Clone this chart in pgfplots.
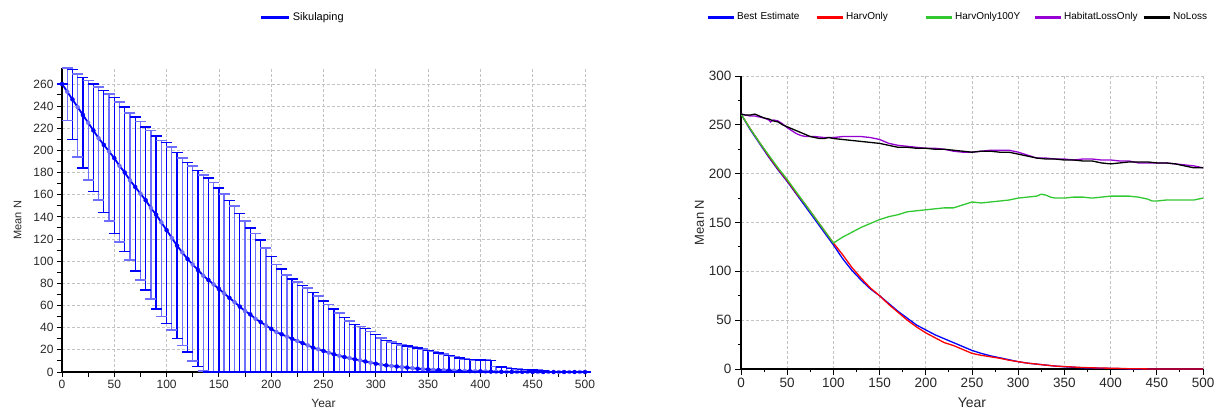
\documentclass[border=0pt]{standalone}
\usepackage{fontspec}
\setmainfont{Liberation Sans}
\usepackage{pgfplots}
\pgfplotsset{compat=1.18}
\usepackage{pgfplotstable}
\definecolor{cgreen}{RGB}{50,200,50}
\definecolor{cpurple}{RGB}{150,0,210}
\definecolor{gridc}{RGB}{195,195,195}
\definecolor{tickc}{RGB}{40,40,40}
\definecolor{lightblue}{RGB}{110,110,255}
\definecolor{capblue}{RGB}{0,0,255}

\pgfplotstableread{
yr mean lo hi
0 260 260 260
5 253 227 274
10 246 210 273
15 239 194 269
20 232 184 266
25 225 173 263
30 218 163 260
35 211 155 257
40 205 144 254
45 199 136 251
50 193 125 248
55 186 117 244
60 180 109 239
65 173 101 234
70 167 91 230
75 161 83 226
80 155 74 221
85 148 66 218
90 142 57 213
95 135 50 209
100 128 44 207
105 121 38 203
110 114 30 198
115 108 24 193
120 102 18 189
125 97 10 186
130 92 5 182
135 87 1 178
140 83 0 175
145 79 0 171
150 75 0 166
155 71 0 161
160 67 0 155
165 63 0 150
170 59 0 143
175 55 0 136
180 52 0 130
185 48 0 125
190 45 0 119
195 42 0 112
200 39 0 104
205 36 0 97
210 34 0 93
215 32 0 87.5
220 30 0 84
225 28 0 81
230 26 0 78
235 24 0 75.5
240 22 0 72
245 20.5 0 68.5
250 19 0 64
255 17.5 0 61
260 16 0 57
265 14.7 0 53
270 13.5 0 49
275 12.5 0 46
280 11.5 0 43
285 10.5 0 41
290 9.5 0 39
295 8.5 0 36.5
300 7.5 0 34
305 6.7 0 30.5
310 6 0 28.5
315 5.5 0 27
320 5 0 25.5
325 4.5 0 24.5
330 4 0 23.5
335 3.5 0 22.5
340 3 0 21.5
345 2.6 0 20.5
350 2.3 0 19.5
355 2 0 18.5
360 1.8 0 17
365 1.6 0 16
370 1.4 0 15
375 1.2 0 14
380 1.0 0 12.5
385 0.9 0 12
390 0.8 0 11.5
395 0.7 0 11
400 0.6 0 10.8
405 0.5 0 10.8
410 0.4 0 10.5
415 0.3 0 5
420 0.2 0 4.5
425 0.15 0 4
430 0.1 0 3.3
435 0.1 0 3
440 0.1 0 2.5
445 0.05 0 2
450 0 0 1.8
455 0 0 1.5
460 0 0 1
465 0 0 0.5
470 0 0 0.3
475 0 0 0.2
480 0 0 0.1
485 0 0 0.1
490 0 0 0.1
495 0 0 0.1
500 0 0 0.1
}\leftdata

\pgfplotsset{
  commonax/.style={
    scale only axis,
    xmin=0, xmax=500, ymin=0,
    xtick={0,50,...,500},
    minor x tick num=1, minor y tick num=1,
    axis x line*=bottom, axis y line*=left,
    axis line style={line width=1.5pt, -},
    tick align=outside,
    every tick/.style={black, line width=1pt},
    grid=major,
    major grid style={gridc, dash pattern=on 3pt off 2pt, line width=0.7pt},
    /pgf/number format/assume math mode=true,
    /pgf/number format/1000 sep={},
    legend cell align=left,
  },
  oddpts/.style={restrict expr to domain={mod(\coordindex,2)}{0.5:1.5}},
  evenpts/.style={restrict expr to domain={mod(\coordindex,2)}{-0.5:0.5}},
}

\begin{document}
\begin{tikzpicture}[x=1pt,y=1pt]
\path[use as bounding box] (0,0) rectangle (1218,410);

% ---------------- left chart
\begin{axis}[commonax,
  at={(62pt,38pt)}, anchor=south west,
  width=523pt, height=303.6pt,
  ymax=274, ytick={0,20,...,260},
  major tick length=5pt, minor tick length=5pt,
  tick label style={font=\fontsize{12}{14}\selectfont, text=tickc},
  xlabel={Year}, ylabel={Mean N},
  every axis x label/.style={at={(axis description cs:0.5,-0.104)}, anchor=center, font=\fontsize{12}{14}\selectfont, text=tickc},
  every axis y label/.style={at={(axis description cs:-0.085,0.5)}, rotate=90, anchor=center, font=\fontsize{11}{13}\selectfont, text=tickc},
  legend style={at={(axis description cs:0.378,1.169)}, anchor=west, draw=none, fill=none, inner sep=0pt,
    font=\fontsize{11}{13}\selectfont},
  legend image code/.code={\draw[#1, line width=3pt] (0pt,0pt) -- (28pt,0pt);},
]
% vertical bars (no caps)
\addplot[color=lightblue, only marks, mark=none, forget plot, oddpts,
  error bars/.cd, y dir=both, y explicit, error mark=none,
  error bar style={color=lightblue, line width=1.3pt}]
  table[x=yr, y=mean, y error plus expr=\thisrow{hi}-\thisrow{mean}, y error minus expr=\thisrow{mean}-\thisrow{lo}] {\leftdata};
\addplot[color=blue, only marks, mark=none, forget plot, evenpts,
  error bars/.cd, y dir=both, y explicit, error mark=none,
  error bar style={color=blue, line width=1.3pt}]
  table[x=yr, y=mean, y error plus expr=\thisrow{hi}-\thisrow{mean}, y error minus expr=\thisrow{mean}-\thisrow{lo}] {\leftdata};
% caps
\addplot[color=lightblue, only marks, mark=-, mark size=5.5pt, forget plot, oddpts,
  mark options={color=lightblue, line width=1.8pt}] table[x=yr, y=hi] {\leftdata};
\addplot[color=lightblue, only marks, mark=-, mark size=5.5pt, forget plot, oddpts,
  mark options={color=lightblue, line width=1.8pt}] table[x=yr, y=lo] {\leftdata};
\addplot[color=capblue, only marks, mark=-, mark size=5.5pt, forget plot, evenpts,
  mark options={color=capblue, line width=1.4pt}] table[x=yr, y=hi] {\leftdata};
\addplot[color=capblue, only marks, mark=-, mark size=5.5pt, forget plot, evenpts,
  mark options={color=capblue, line width=1.4pt}] table[x=yr, y=lo] {\leftdata};
\addplot[blue, line width=1.8pt] table[x=yr, y=mean] {\leftdata};
\addlegendentry{Sikulaping}
\end{axis}

% ---------------- right chart
\begin{axis}[commonax,
  at={(741pt,41pt)}, anchor=south west,
  width=462pt, height=293pt,
  ymax=300, ytick={0,50,...,300},
  major tick length=6pt, minor tick length=3pt,
  tick label style={font=\fontsize{13.5}{15}\selectfont, text=tickc},
  xlabel={Year}, ylabel={Mean N},
  every axis x label/.style={at={(axis description cs:0.5,-0.116)}, anchor=center, font=\fontsize{14}{16}\selectfont, text=tickc},
  every axis y label/.style={at={(axis description cs:-0.09,0.5)}, rotate=90, anchor=center, font=\fontsize{13}{15}\selectfont, text=tickc},
  legend columns=5,
  legend style={at={(axis description cs:-0.0758,1.201)}, anchor=west, draw=none, fill=none, inner sep=0pt,
    font=\fontsize{10}{12}\selectfont,
    /tikz/every even column/.append style={text width=76pt}},
  legend image code/.code={\draw[#1, line width=3pt] (0pt,0pt) -- (26pt,0pt);},
  every axis plot/.append style={line width=1.3pt},
]
\addplot[blue] coordinates {
(0,261)(10,245)(20,231)(30,217)(40,204)(50,192)(60,179)(70,166)(80,153)(90,140)(100,127)
(110,113)(120,101)(130,91)(140,82)(150,75)(160,67)(170,59)(180,52)(190,45)(200,40)
(210,35)(220,31)(230,27)(240,23)(250,19)(260,16)(270,13.5)(280,11.5)(290,9.5)(300,7.5)
(310,6)(320,5)(330,4)(340,3)(350,2.3)(360,1.8)(370,1.2)(380,1)(390,0.8)(400,0.6)
(410,0.4)(420,0.1)(430,0)(500,0)};
\addlegendentry{Best Estimate}
\addplot[red] coordinates {
(0,261)(10,246)(20,232)(30,218)(40,205)(50,193)(60,180)(70,168)(80,155)(90,142)(100,129)
(110,117)(120,104)(130,93)(140,83)(150,75)(160,66)(170,58)(180,50)(190,43)(200,37)
(210,32)(220,27)(230,24)(240,20)(250,16)(260,14)(270,12.5)(280,11)(290,9)(300,7.5)
(310,6)(320,5)(330,4)(340,3)(350,2.5)(360,2)(370,1.5)(380,1.2)(390,1)(400,0.8)
(410,0.6)(420,0.3)(430,0.2)(440,0.1)(450,0)(500,0)};
\addlegendentry{HarvOnly}
\addplot[cgreen] coordinates {
(0,261)(10,246)(20,232)(30,219)(40,206)(50,194)(60,181)(70,168)(80,155)(90,142)(100,129)
(105,132)(110,135)(120,140)(130,145)(140,149)(150,153)(160,156)(170,158)(180,161)(190,162)
(200,163)(210,164)(220,165)(230,165)(240,168)(250,171)(260,170)(270,171)(280,172)(290,173)
(300,175)(310,176)(320,177)(325,179)(330,178)(335,176)(340,175)(350,175)(360,176)(370,176)
(380,175)(390,176)(400,177)(410,177)(420,177)(430,176)(440,174)(445,172)(450,172)(460,173)
(470,173)(480,173)(490,173)(500,175)};
\addlegendentry{HarvOnly100Y}
\addplot[cpurple] coordinates {
(0,261)(5,260)(10,259)(15,259)(20,258)(25,257)(30,255)(32,253)(35,255)(40,254)(45,251)
(50,247)(55,244)(60,241)(65,239)(70,238)(75,238)(80,238)(90,237)(100,237)(110,238)
(120,238)(130,238)(140,237)(150,235)(160,231)(170,229)(180,228)(190,227)(200,226)
(210,226)(220,225)(230,223)(240,222)(250,222)(260,223)(270,224)(280,224)(290,224)
(300,222)(310,219)(320,216)(330,216)(340,215)(350,215)(360,214)(370,215)(380,215)
(390,214)(400,214)(410,213)(420,213)(430,211)(440,211)(450,211)(460,211)(470,210)
(480,209)(490,208)(500,206)};
\addlegendentry{HabitatLossOnly}
\addplot[black] coordinates {
(0,261)(5,260)(10,260)(15,261)(20,259)(25,257)(30,256)(35,254)(40,253)(45,250)(50,248)
(55,246)(60,244)(65,242)(70,240)(75,238)(80,237)(85,236)(90,236)(95,237)(100,236)
(110,235)(120,234)(130,233)(140,232)(150,231)(160,229)(170,227)(180,227)(190,226)
(200,226)(210,225)(220,225)(230,224)(240,223)(250,222)(260,223)(270,223)(280,222)
(290,222)(300,220)(310,218)(320,216)(330,215)(340,215)(350,214)(360,214)(370,213)
(380,213)(390,211)(400,210)(410,211)(420,212)(430,212)(440,212)(450,211)(460,211)
(470,210)(480,208)(490,206)(500,206)};
\addlegendentry{NoLoss}
\end{axis}
\end{tikzpicture}
\end{document}
